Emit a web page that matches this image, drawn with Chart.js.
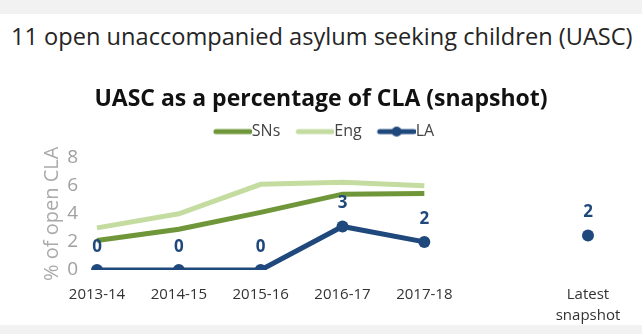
<!DOCTYPE html>
<html>
<head>
<meta charset="utf-8">
<script src="https://cdn.jsdelivr.net/npm/chart.js@4"></script>
<style>
  body { margin: 0; width: 642px; height: 334px; background: #fff; overflow: hidden; font-family: "Open Sans", sans-serif; }
  .strip { background: #f2f2f2; width: 642px; }
  #heading { position: absolute; left: 11px; top: 21px; font-size: 23.6px; color: #252525; line-height: 30px; white-space: nowrap; }
  #wrap { position: absolute; left: 0; top: 55px; width: 642px; height: 270px; }
  #bottom { position: absolute; left: 0; top: 325px; height: 9px; }
</style>
</head>
<body>
<div class="strip" style="height:14px"></div>
<div id="heading">11 open unaccompanied asylum seeking children (UASC)</div>
<div id="wrap"><canvas id="uasc-chart"></canvas></div>
<div id="bottom" class="strip"></div>
<script>
// values
const years = ['2013-14', '2014-15', '2015-16', '2016-17', '2017-18', '', ['Latest', 'snapshot']];
const snsValues = [2.1, 2.9, 4.1, 5.4, 5.45, null, null];
const engValues = [3.0, 4.0, 6.1, 6.25, 6.0, null, null];
const laValues = [0, 0, 0, 3.1, 2.0, null, 2.45];
const yTicks = [0, 2, 4, 6, 8];

const SNS_COLOR = '#6f973a';
const ENG_COLOR = '#c5dca1';
const LA_COLOR = '#1f487c';

// little legend swatches: a thick line, with a dot for LA
function swatch(color, dot) {
    const c = document.createElement('canvas');
    c.width = 52; c.height = 12;
    const ctx = c.getContext('2d');
    ctx.strokeStyle = color;
    ctx.lineWidth = 5;
    ctx.lineCap = 'round';
    ctx.beginPath();
    ctx.moveTo(16, 6);
    ctx.lineTo(50, 6);
    ctx.stroke();
    if (dot) {
        ctx.fillStyle = color;
        ctx.beginPath();
        ctx.arc(33, 6, 5, 0, Math.PI * 2);
        ctx.fill();
    }
    return c;
}

// value labels above the LA points
const laLabels = {
    id: 'laLabels',
    afterDatasetsDraw(chart) {
        const ctx = chart.ctx;
        const meta = chart.getDatasetMeta(2);
        ctx.save();
        ctx.fillStyle = LA_COLOR;
        ctx.font = 'bold 17px "Open Sans"';
        ctx.textAlign = 'center';
        ctx.textBaseline = 'middle';
        meta.data.forEach((pt, i) => {
            const v = laValues[i];
            if (v === null) return;
            ctx.fillText(Math.round(v), pt.x, pt.y - 23);
        });
        ctx.restore();
    }
};

// a bit more room under the legend
const legendGap = {
    id: 'legendGap',
    beforeInit(chart) {
        const fit = chart.legend.fit;
        chart.legend.fit = function () {
            fit.call(this);
            this.height += 8;
        };
    }
};

const data1 = {
    labels: years,
    datasets: [
        {
            label: 'SNs',
            data: snsValues,
            borderColor: SNS_COLOR,
            borderWidth: 5,
            pointRadius: 0
        },
        {
            label: 'Eng',
            data: engValues,
            borderColor: ENG_COLOR,
            borderWidth: 5,
            pointRadius: 0
        },
        {
            label: 'LA',
            data: laValues,
            borderColor: LA_COLOR,
            backgroundColor: LA_COLOR,
            borderWidth: 5,
            pointRadius: 6,
            pointBorderWidth: 0,
            pointStyle: 'circle'
        }
    ]
};

const config1 = {
    type: 'line',
    data: data1,
    options: {
        responsive: true,
        maintainAspectRatio: false,
        animation: false,
        layout: { padding: 0 },
        plugins: {
            title: {
                display: true,
                text: 'UASC as a percentage of CLA (snapshot)',
                color: '#111',
                font: { family: 'Open Sans', size: 23, weight: 'bold' },
                padding: { top: 31, bottom: 0 }
            },
            legend: {
                display: true,
                labels: {
                    usePointStyle: true,
                    pointStyleWidth: 36,
                    color: '#444',
                    font: { family: 'Open Sans', size: 16 },
                    padding: 10,
                    generateLabels(chart) {
                        return chart.data.datasets.map((ds, i) => ({
                            text: ds.label,
                            pointStyle: swatch(ds.borderColor, i === 2),
                            fontColor: '#444',
                            datasetIndex: i,
                            hidden: false,
                            lineWidth: 0
                        }));
                    }
                }
            },
            tooltip: { enabled: false }
        },
        scales: {
            x: {
                offset: false,
                grid: { display: false },
                border: { display: false },
                afterFit(scale) {
                    scale.height = 55;
                    scale.paddingRight = 54;
                },
                ticks: {
                    color: '#333',
                    font: { family: 'Open Sans', size: 15, lineHeight: 1.4 },
                    maxRotation: 0,
                    autoSkip: false,
                    padding: 6
                }
            },
            y: {
                min: 0,
                max: 8,
                grid: { display: false },
                border: { display: false },
                afterBuildTicks(scale) {
                    scale.ticks = yTicks.map(v => ({ value: v }));
                },
                afterFit(scale) {
                    scale.width = 97;
                },
                ticks: {
                    color: '#a0a0a0',
                    font: { family: 'Open Sans', size: 19 },
                    autoSkip: false,
                    padding: 11
                },
                title: {
                    display: true,
                    text: '% of open CLA',
                    color: '#aaa',
                    font: { family: 'Open Sans', size: 20 },
                    padding: { top: 40, bottom: 0 }
                }
            }
        }
    },
    plugins: [laLabels, legendGap]
};

new Chart(document.getElementById('uasc-chart'), config1);
</script>
</body>
</html>
